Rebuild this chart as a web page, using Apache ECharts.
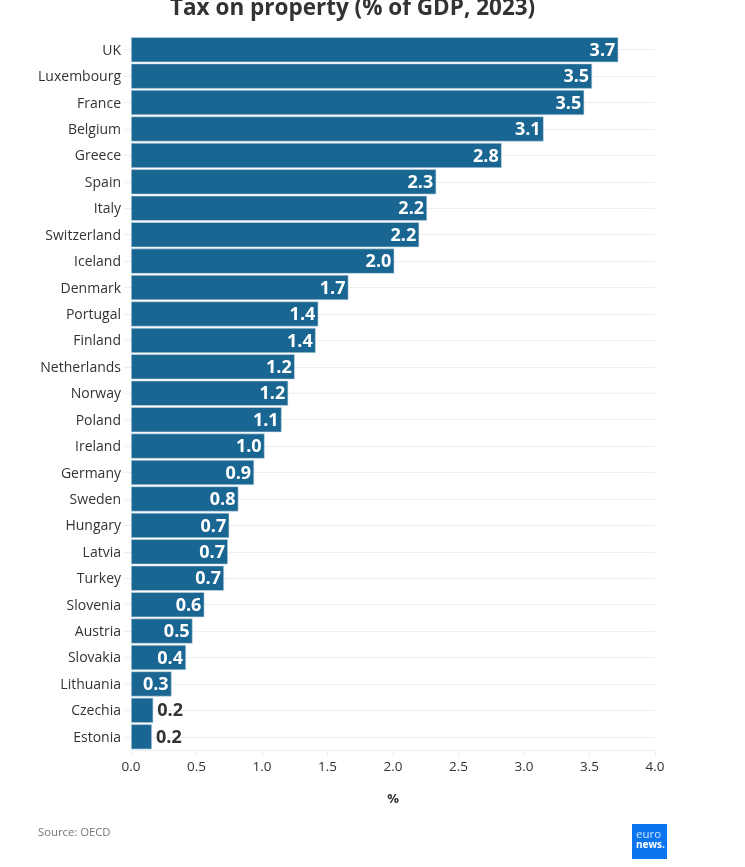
<!DOCTYPE html>
<html>
<head>
<meta charset="utf-8">
<title>Tax on property</title>
<script src="https://cdn.jsdelivr.net/npm/echarts@6/dist/echarts.min.js"></script>
<style>
html, body { margin: 0; padding: 0; background: #fff; }
#chart { width: 745px; height: 867px; }
</style>
</head>
<body>
<div id="chart"></div>
<script>
var countries = ['UK', 'Luxembourg', 'France', 'Belgium', 'Greece', 'Spain', 'Italy', 'Switzerland', 'Iceland', 'Denmark', 'Portugal', 'Finland', 'Netherlands', 'Norway', 'Poland', 'Ireland', 'Germany', 'Sweden', 'Hungary', 'Latvia', 'Turkey', 'Slovenia', 'Austria', 'Slovakia', 'Lithuania', 'Czechia', 'Estonia'];
var values = [3.72, 3.52, 3.46, 3.15, 2.83, 2.33, 2.26, 2.20, 2.01, 1.66, 1.43, 1.41, 1.25, 1.20, 1.15, 1.02, 0.94, 0.82, 0.75, 0.74, 0.71, 0.56, 0.47, 0.42, 0.31, 0.17, 0.16];
var valueLabels = ['3.7', '3.5', '3.5', '3.1', '2.8', '2.3', '2.2', '2.2', '2.0', '1.7', '1.4', '1.4', '1.2', '1.2', '1.1', '1.0', '0.9', '0.8', '0.7', '0.7', '0.7', '0.6', '0.5', '0.4', '0.3', '0.2', '0.2'];

var font = '"Open Sans", "Noto Sans", sans-serif';
var gridColor = '#eeeeee';
var barColor = '#1a6692';

var myChart = echarts.init(document.getElementById('chart'), null, { renderer: 'canvas' });

// the two smallest bars carry their label outside
function barData() {
    return values.map(function(v, i) {
        var item = { value: v };
        if (v < 0.2) {
            item.label = { position: 'right', distance: 4, color: '#333333' };
        }
        return item;
    });
}

myChart.setOption({
    animation: false,
    graphic: [{
        type: 'text',
        left: 170,
        top: -3,
        style: { text: 'Tax on property (% of GDP, 2023)', font: 'bold 22.5px ' + font, fill: '#333333' }
    }, {
        type: 'text',
        left: 38,
        top: 827,
        style: { text: 'Source: OECD', font: '11.3px ' + font, fill: '#777777' }
    }, {
        type: 'rect',
        left: 632,
        top: 824,
        shape: { width: 35, height: 35 },
        style: { fill: '#0a75ee' }
    }, {
        type: 'text',
        left: 636,
        top: 829,
        style: { text: 'euro', font: '11.5px ' + font, fill: '#cfe4ff' }
    }, {
        type: 'text',
        left: 636,
        top: 840,
        style: { text: 'news.', font: 'bold 10px ' + font, fill: '#ffffff' }
    }],
    grid: { left: 131, top: 36.5, width: 524, height: 713.5 },
    xAxis: {
        type: 'value',
        min: 0,
        max: 4,
        interval: 0.5,
        name: '%',
        nameLocation: 'middle',
        nameGap: 43,
        nameTextStyle: { fontFamily: font, fontSize: 13, fontWeight: 'bold', color: '#333333' },
        axisLine: { show: true, lineStyle: { color: gridColor } },
        axisTick: { show: true, length: 7, lineStyle: { color: gridColor } },
        axisLabel: {
            margin: 10,
            fontFamily: font,
            fontSize: 13.5,
            color: '#333333',
            formatter: function(v) { return v.toFixed(1); }
        },
        splitLine: { show: false }
    },
    yAxis: [{
        type: 'category',
        inverse: true,
        data: countries,
        axisLine: { show: false },
        axisTick: { show: true, alignWithLabel: true, length: 7, lineStyle: { color: gridColor } },
        axisLabel: {
            margin: 10,
            formatter: '{a|{value}}',
            rich: { a: { padding: [2, 0, 0, 0], fontFamily: font, fontSize: 14, color: '#333333' } }
        },
        splitLine: { show: false }
    }, {
        // only there to draw the light rows through the band centres
        type: 'category',
        inverse: true,
        position: 'right',
        data: countries,
        axisLine: { show: false },
        axisLabel: { show: false },
        axisTick: { show: true, alignWithLabel: true, inside: true, length: 524, lineStyle: { color: gridColor } }
    }],
    series: [{
        type: 'bar',
        data: barData(),
        barCategoryGap: '5%',
        itemStyle: { color: barColor, borderColor: '#c5d8e4', borderWidth: 0.6 },
        label: {
            show: true,
            position: 'insideRight',
            distance: 3,
            offset: [0, 1],
            fontFamily: font,
            fontSize: 18,
            fontWeight: 'bold',
            color: '#ffffff',
            formatter: function(p) { return valueLabels[p.dataIndex]; }
        }
    }]
});
</script>
</body>
</html>
